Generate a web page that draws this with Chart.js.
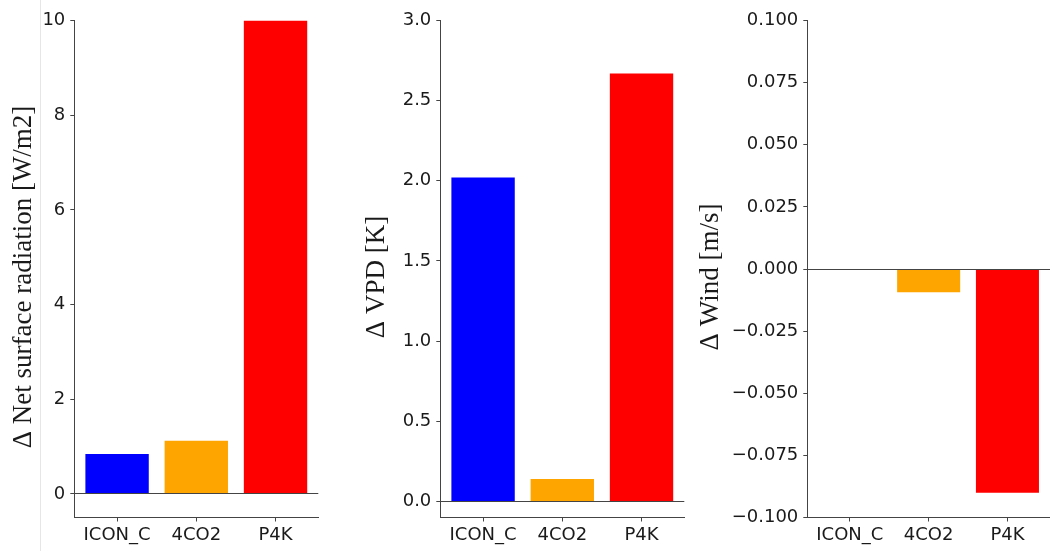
<!DOCTYPE html>
<html>
<head>
<meta charset="utf-8">
<script src="https://cdn.jsdelivr.net/npm/chart.js@4/dist/chart.umd.min.js"></script>
<style>
  html, body { margin: 0; padding: 0; background: #fff; }
  #wrap { position: relative; width: 1050px; height: 551px; overflow: hidden; background: #fff; }
  #wrap canvas { position: absolute; left: 0; top: 0; }
  #edge { position: absolute; left: 40px; top: 0; width: 1px; height: 551px; background: #e6e6e6; }
</style>
</head>
<body>
<div id="wrap">
  <div id="edge"></div>
  <canvas id="c1" width="1050" height="551"></canvas>
  <canvas id="c2" width="1050" height="551"></canvas>
  <canvas id="c3" width="1050" height="551"></canvas>
</div>
<script>
// Experiments shown on the x axis
const categories = ['ICON_C', '4CO2', 'P4K'];

// Change relative to the control run, one value per experiment
const netRadiation = [0.84, 1.12, 10.0];
const vpd = [2.02, 0.14, 2.67];
const wind = [0.0, -0.0094, -0.090];

// Tick values of each y axis
const radiationTicks = [0, 2, 4, 6, 8, 10];
const vpdTicks = [0, 0.5, 1.0, 1.5, 2.0, 2.5, 3.0];
const windTicks = [-0.1, -0.075, -0.05, -0.025, 0, 0.025, 0.05, 0.075, 0.1];

// Bar fill per experiment
const barColors = ['#0000ff', '#ffa500', '#ff0000'];

const AXIS = '#444444';
const TEXT = '#1a1a1a';

function fmt(v, decimals) {
  return v.toFixed(decimals).replace('-', '\u2212');
}

// Rotated y-axis caption, centred a little below the middle of the plot area
const yCaption = {
  id: 'yCaption',
  afterDraw(chart, args, opts) {
    const { ctx, chartArea } = chart;
    ctx.save();
    ctx.translate(opts.x, (chartArea.top + chartArea.bottom) / 2 + opts.shift);
    ctx.rotate(-Math.PI / 2);
    ctx.font = '27px "Liberation Serif"';
    ctx.fillStyle = TEXT;
    ctx.textAlign = 'center';
    ctx.textBaseline = 'middle';
    ctx.fillText(opts.text, 0, 0);
    ctx.restore();
  }
};

function makePanel(id, cfg) {
  const values = cfg.values;
  new Chart(document.getElementById(id), {
    type: 'bar',
    data: {
      datasets: [{
        data: values.map((v, i) => ({ x: i, y: v })),
        backgroundColor: barColors,
        borderWidth: 0,
        categoryPercentage: 0.8,
        barPercentage: 1.0
      }]
    },
    plugins: [yCaption],
    options: {
      responsive: false,
      animation: false,
      events: [],
      layout: { padding: { left: cfg.padLeft, right: cfg.padRight, top: 20.5, bottom: 0 } },
      plugins: {
        legend: { display: false },
        tooltip: { enabled: false },
        yCaption: { text: cfg.title, x: cfg.titleX, shift: 8 }
      },
      scales: {
        x: {
          type: 'linear',
          min: -0.54,
          max: 2.54,
          offset: false,
          afterBuildTicks: s => { s.ticks = categories.map((c, i) => ({ value: i })); },
          afterFit: s => { s.height = 33.5; },
          grid: { offset: false, drawOnChartArea: false, drawTicks: true, tickLength: 4, tickColor: AXIS, tickWidth: 1 },
          border: { display: true, color: AXIS, width: 1 },
          ticks: {
            autoSkip: false, maxRotation: 0, padding: 3, color: TEXT,
            font: { family: 'DejaVu Sans', size: 18 },
            callback: v => categories[v]
          }
        },
        y: {
          type: 'linear',
          min: cfg.min,
          max: cfg.max,
          afterBuildTicks: s => { s.ticks = cfg.ticks.map(v => ({ value: v })); },
          afterFit: s => { s.width = cfg.yWidth; },
          grid: {
            z: 1,
            drawOnChartArea: true,
            drawTicks: true,
            tickLength: 4,
            tickWidth: 1,
            tickColor: AXIS,
            lineWidth: 1,
            color: c => (c.tick && Math.abs(c.tick.value) < 1e-12) ? AXIS : 'rgba(0,0,0,0)'
          },
          border: { display: true, color: AXIS, width: 1, z: 2 },
          ticks: {
            padding: 5, color: TEXT,
            font: { family: 'DejaVu Sans', size: 18 },
            callback: v => fmt(v, cfg.decimals)
          }
        }
      }
    }
  });
}

makePanel('c1', {
  values: netRadiation, ticks: radiationTicks, min: -0.5, max: 10, decimals: 0,
  title: '\u0394 Net surface radiation [W/m2]', titleX: 24,
  padLeft: 11, yWidth: 63.3, padRight: 731.7
});
makePanel('c2', {
  values: vpd, ticks: vpdTicks, min: -0.1, max: 3.0, decimals: 1,
  title: '\u0394 VPD [K]', titleX: 377,
  padLeft: 364, yWidth: 76.3, padRight: 365.7
});
makePanel('c3', {
  values: wind, ticks: windTicks, min: -0.1, max: 0.1, decimals: 3,
  title: '\u0394 Wind [m/s]', titleX: 711,
  padLeft: 698, yWidth: 109.3, padRight: -1.3
});
</script>
</body>
</html>
